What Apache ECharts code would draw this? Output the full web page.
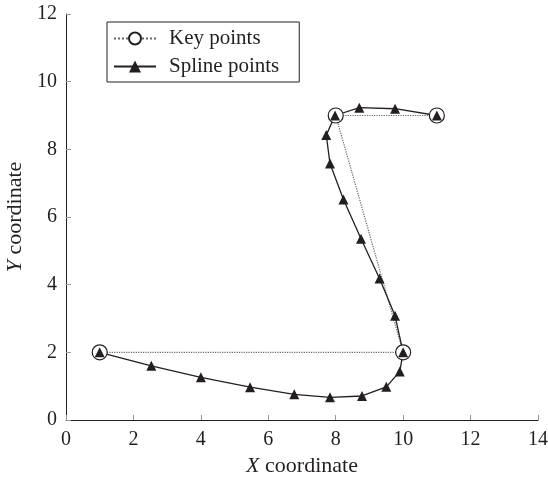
<!DOCTYPE html>
<html>
<head>
<meta charset="utf-8">
<script src="https://cdn.jsdelivr.net/npm/echarts@6/dist/echarts.min.js"></script>
<style>
  html, body { margin: 0; padding: 0; background: #fff; }
  #chart { width: 548px; height: 481px; }
</style>
</head>
<body>
<div id="chart"></div>
<script>
const keyX = [1, 10, 8, 11]
const keyY = [2, 2, 9, 9]

const splineX = [1, 2.53, 4.0, 5.46, 6.77, 7.83, 8.78, 9.5, 9.9, 10, 9.76, 9.3, 8.75, 8.23, 7.83, 7.72, 7.98, 8.7, 9.76, 11]
const splineY = [2, 1.6, 1.26, 0.97, 0.76, 0.67, 0.71, 0.98, 1.43, 2, 3.08, 4.18, 5.36, 6.52, 7.58, 8.42, 9.0, 9.23, 9.2, 9.0]

const xTicks = [0, 2, 4, 6, 8, 10, 12, 14]
const yTicks = [0, 2, 4, 6, 8, 10, 12]

const font = '"Liberation Serif", "DejaVu Serif", serif'
const ink = '#231f20'

const pairs = (xs, ys) => xs.map((x, i) => [x, ys[i]])

const chart = echarts.init(document.getElementById('chart'))

const axisBase = {
  type: 'value',
  nameLocation: 'middle',
  splitLine: { show: false },
  axisLine: { show: true, lineStyle: { color: ink, width: 1 } },
  axisTick: { show: true, inside: true, length: 5, lineStyle: { color: '#999' } },
  axisLabel: { color: ink, fontFamily: font, fontSize: 20 },
  nameTextStyle: {
    color: ink, fontFamily: font, fontSize: 22,
    rich: { i: { fontStyle: 'italic', fontFamily: font, fontSize: 22, color: ink } }
  }
}

chart.setOption({
  animation: false,
  backgroundColor: '#fff',
  grid: { left: 66, right: 10, top: 14, bottom: 61, outerBoundsMode: 'none', containLabel: false },
  legend: {
    left: 107,
    top: 22,
    orient: 'vertical',
    borderColor: ink,
    borderWidth: 1,
    padding: [6, 20, 5, 6],
    itemWidth: 42,
    itemHeight: 15,
    itemGap: 7,
    textStyle: { color: ink, fontFamily: font, fontSize: 21, padding: [0, 0, 0, 8] },
    data: ['Key points', 'Spline points']
  },
  xAxis: {
    ...axisBase,
    min: 0, max: 14, interval: 2,
    name: '{i|X} coordinate',
    nameGap: 33,
    axisLabel: { ...axisBase.axisLabel, margin: 10, formatter: v => xTicks.includes(v) ? String(v) : '' }
  },
  yAxis: {
    ...axisBase,
    min: 0, max: 12, interval: 2,
    name: '{i|Y} coordinate',
    nameGap: 39,
    axisLabel: { ...axisBase.axisLabel, margin: 9, formatter: v => yTicks.includes(v) ? String(v) : '' }
  },
  series: [
    {
      name: 'Key points',
      type: 'line',
      data: pairs(keyX, keyY),
      symbol: 'circle',
      symbolSize: 15,
      itemStyle: { color: '#fff', borderColor: ink, borderWidth: 1.2 },
      lineStyle: { color: '#666', width: 1.2, type: 'dotted' }
    },
    {
      name: 'Spline points',
      type: 'line',
      data: pairs(splineX, splineY),
      symbol: 'triangle',
      symbolSize: 10,
      itemStyle: { color: ink },
      lineStyle: { color: ink, width: 1.3 }
    }
  ]
})
</script>
</body>
</html>
